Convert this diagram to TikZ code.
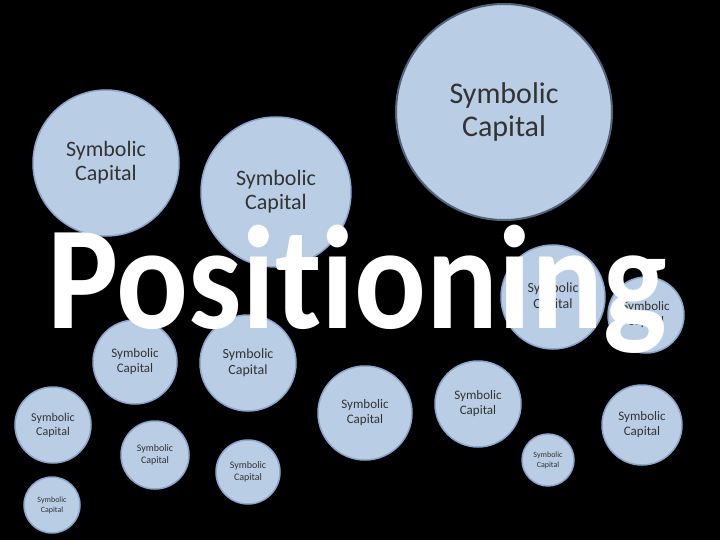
\documentclass[tikz,border=0pt]{standalone}
\usepackage{fontspec}
\setmainfont{Carlito}
\definecolor{cfill}{HTML}{B9CDE5}
\definecolor{cdraw}{HTML}{8AA6CC}
\definecolor{ctext}{HTML}{333333}
\begin{document}
\begin{tikzpicture}[x=1pt,y=-1pt,
  bub/.style={circle,fill=cfill,draw=cdraw,line width=1.5pt,minimum size=#1,inner sep=0pt,text=ctext,align=center}]
\fill[black] (0,0) rectangle (720,540);
\useasboundingbox (0,0) rectangle (720,540);
\node[bub=146pt,font=\fontsize{22}{24}\selectfont] (c1) at (106,163) {Symbolic\\Capital};
\node[bub=150pt,font=\fontsize{22}{24}\selectfont] (c2) at (276,192) {Symbolic\\Capital};
\node[bub=216pt,draw=cdraw!60!black,line width=2pt,font=\fontsize{30}{33}\selectfont] (c3) at (504,112) {Symbolic\\Capital};
\node[bub=104pt,font=\fontsize{14}{16}\selectfont] (c4) at (553,297) {Symbolic\\Capital};
\node[bub=76pt,font=\fontsize{13}{15}\selectfont] (c5) at (646,315) {Symbolic\\Capital};
\node[bub=84pt,font=\fontsize{13}{15}\selectfont] (c6) at (135,362) {Symbolic\\Capital};
\node[bub=96pt,font=\fontsize{14}{16}\selectfont] (c7) at (248,363) {Symbolic\\Capital};
\node[bub=94pt,font=\fontsize{13}{15}\selectfont] (c8) at (365,413) {Symbolic\\Capital};
\node[bub=86pt,font=\fontsize{13}{15}\selectfont] (c9) at (478,404) {Symbolic\\Capital};
\node[bub=76pt,font=\fontsize{12}{14}\selectfont] (c10) at (53,425) {Symbolic\\Capital};
\node[bub=68pt,font=\fontsize{10}{12}\selectfont] (c11) at (155,455) {Symbolic\\Capital};
\node[bub=64pt,font=\fontsize{10}{12}\selectfont] (c12) at (248,472) {Symbolic\\Capital};
\node[bub=52pt,font=\fontsize{8}{10}\selectfont] (c13) at (548,460) {Symbolic\\Capital};
\node[bub=80pt,font=\fontsize{13}{15}\selectfont] (c14) at (642,425) {Symbolic\\Capital};
\node[bub=56pt,font=\fontsize{8}{10}\selectfont] (c15) at (52,505) {Symbolic\\Capital};
\node[text=white,font=\fontsize{134}{134}\selectfont\bfseries\addfontfeature{Ligatures=NoCommon},anchor=base,inner sep=0pt,yscale=1.1] (t) at (357,328) {Positioning};
\end{tikzpicture}
\end{document}
